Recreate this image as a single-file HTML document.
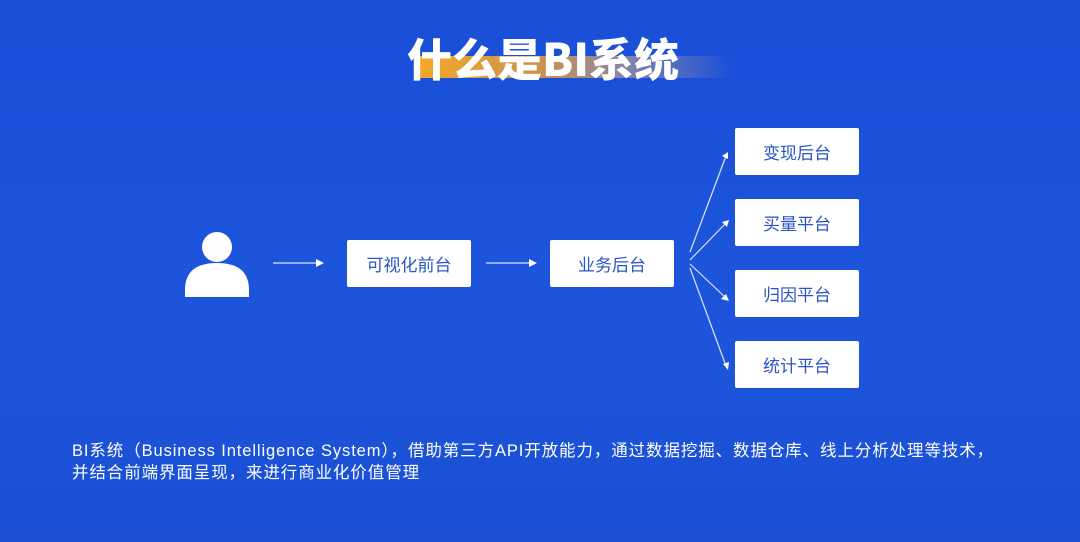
<!DOCTYPE html>
<html><head><meta charset="utf-8"><style>
body{margin:0;width:1080px;height:542px;overflow:hidden;background:linear-gradient(180deg,#1a4fd8 0%,#1c55dc 60%,#1a4fd4 100%);font-family:"Liberation Sans","Noto Sans CJK SC",sans-serif;position:relative}
.b{position:absolute;background:#fff;border-radius:2px;color:#2a55c8;font-size:17px;display:flex;align-items:center;justify-content:center;width:124px;height:47px}
.t{position:absolute;left:72px;color:#fff;font-size:16.5px;line-height:22px;white-space:nowrap;letter-spacing:0.9px}
</style></head><body>
<div style="position:absolute;left:420px;top:56px;width:310px;height:22px;background:linear-gradient(90deg,#f4a72a 0%,#c89350 40%,#8a86a8 65%,rgba(30,80,215,0) 100%)"></div>
<div style="position:absolute;left:407px;top:27px;color:#fff;font-size:45px;font-weight:900;font-family:'Noto Sans CJK SC','Liberation Sans',sans-serif;line-height:60px;white-space:nowrap">什么是BI系统</div>
<svg style="position:absolute;left:0;top:0" width="1080" height="542">
<circle cx="217" cy="247" r="15" fill="#fff"/>
<path d="M185 297 L185 290 Q185 263 217 263 Q249 263 249 290 L249 297 Z" fill="#fff"/>
<g stroke="#dbe4ff" stroke-width="1.2" fill="#fff">
<line x1="273" y1="263" x2="318" y2="263"/><path d="M324 263 L316 259 L316 267Z" stroke="none"/>
<line x1="486" y1="263" x2="531" y2="263"/><path d="M537 263 L529 259 L529 267Z" stroke="none"/>
<line x1="690" y1="252" x2="726" y2="156"/><path d="M728 152 L722 156 L728 159Z" stroke="none"/>
<line x1="690" y1="260" x2="726" y2="223"/><path d="M729 220 L722 222 L727 227Z" stroke="none"/>
<line x1="690" y1="264" x2="726" y2="298"/><path d="M729 301 L726 294 L721 299Z" stroke="none"/>
<line x1="690" y1="268" x2="726" y2="366"/><path d="M728 370 L729 362 L723 364Z" stroke="none"/>
</g></svg>
<div class="b" style="left:347px;top:240px">可视化前台</div>
<div class="b" style="left:550px;top:240px">业务后台</div>
<div class="b" style="left:735px;top:128px">变现后台</div>
<div class="b" style="left:735px;top:199px">买量平台</div>
<div class="b" style="left:735px;top:270px">归因平台</div>
<div class="b" style="left:735px;top:341px">统计平台</div>
<div class="t" style="top:440px">BI系统（Business Intelligence System），借助第三方API开放能力，通过数据挖掘、数据仓库、线上分析处理等技术，</div>
<div class="t" style="top:462px">并结合前端界面呈现，来进行商业化价值管理</div>
</body></html>
